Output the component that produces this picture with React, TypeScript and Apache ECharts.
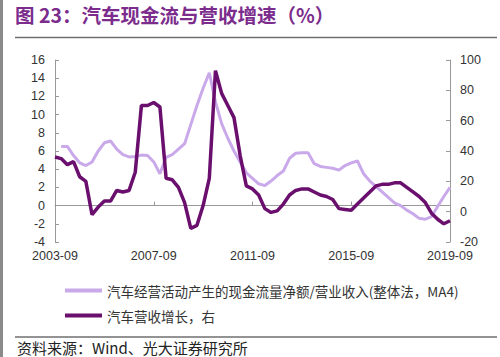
import React, { useEffect, useRef } from "react";
import * as echarts from "echarts";

// Quarterly categories 2003-09 .. 2019-09
const startYear = 2003;
const endYear = 2019;
const quarterMonths = ["03", "06", "09", "12"];
const categories: string[] = [];
for (let y = startYear; y <= endYear; y++) {
  for (const m of quarterMonths) {
    const label = `${y}-${m}`;
    if (label >= "2003-09" && label <= "2019-09") categories.push(label);
  }
}

// 汽车经营活动产生的现金流量净额/营业收入(整体法，MA4) — left axis (%)
const cashFlowRatio: (number | null)[] = [
  null, 6.5, 6.5, 5.5, 4.7, 4.4, 4.8, 6.0, 6.9, 7.1,
  6.2, 5.6, 5.35, 5.4, 5.55, 5.5, 4.8, 3.5, 5.3, 5.6,
  6.2, 6.8, 8.9, 11.0, 12.9, 14.6, 11.4, 9.0, 7.4, 6.0,
  4.8, 3.6, 3.0, 2.4, 2.2, 2.7, 3.3, 3.8, 5.2, 5.75,
  5.8, 5.8, 4.6, 4.3, 4.2, 4.1, 3.9, 4.4, 4.7, 4.9,
  3.5, 2.7, 2.1, 1.5, 0.9, 0.3, 0.0, -0.5, -0.9, -1.4,
  -1.5, -1.2, -0.1, 1.0, 2.0,
];

// 汽车营收增长，右 — right axis (%)
const revenueGrowth: number[] = [
  36, 35, 31, 33, 23, 20, -2, 3, 7, 7,
  14, 13, 14, 26, 70, 70, 72, 69, 22, 21,
  16, 6, -11, -9, 4, 22, 93, 78, 70, 62,
  37, 17, 15, 11, 2, -0.5, 0.5, 5, 11, 14,
  15, 15, 13, 11, 10, 8, 2, 1.5, 1, 5,
  9, 13, 17, 18, 18, 19, 19, 16, 13, 10,
  6, -1, -5, -8, -6,
];

const leftTicks = { min: -4, max: 16, interval: 2 };
const rightTicks = { min: -20, max: 100, interval: 20 };

const seriesNames = [
  "汽车经营活动产生的现金流量净额/营业收入(整体法，MA4)",
  "汽车营收增长，右",
];

const titleText = "图 23：汽车现金流与营收增速（%）";
const sourceText = "资料来源：Wind、光大证券研究所";

const LIGHT = "#C9A9EA";
const DARK = "#6A0F6E";
const LATIN = "'Liberation Sans', Arial, 'Noto Sans CJK SC', sans-serif";
const CJK = "'Noto Sans CJK SC', 'Liberation Sans', sans-serif";

export default function App() {
  const ref = useRef<HTMLDivElement>(null);
  useEffect(() => {
    if (!ref.current) return;
    const chart = echarts.init(ref.current, undefined, { renderer: "svg" });
    chart.setOption({
      animation: false,
      backgroundColor: "#ffffff",
      grid: { left: 55, right: 50, top: 60, bottom: 115, containLabel: false },
      legend: {
        orient: "vertical",
        left: 65,
        top: 283,
        padding: 0,
        itemWidth: 37,
        itemHeight: 4,
        itemGap: 10,
        icon: "rect",
        textStyle: { fontSize: 13.5, color: "#333", fontFamily: CJK, lineHeight: 15 },
        data: seriesNames,
      },
      xAxis: [
        {
          type: "category",
          data: categories,
          boundaryGap: false,
          position: "bottom",
          axisLine: { show: false, onZero: false },
          axisTick: { show: false },
          axisLabel: {
            interval: 15,
            fontSize: 12.5,
            color: "#333",
            fontFamily: LATIN,
            margin: 8,
          },
        },
        {
          type: "category",
          data: categories,
          boundaryGap: false,
          position: "bottom",
          axisLine: { show: true, onZero: true, onZeroAxisIndex: 0, lineStyle: { color: "#999", width: 1 } },
          axisTick: { show: true, inside: true, interval: 15, length: 4, lineStyle: { color: "#999" } },
          axisLabel: { show: false },
        },
      ],
      yAxis: [
        {
          type: "value",
          position: "left",
          min: leftTicks.min,
          max: leftTicks.max,
          interval: leftTicks.interval,
          splitLine: { show: false },
          axisLine: { show: true, lineStyle: { color: "#999" } },
          axisTick: { show: true, inside: true, length: 4, lineStyle: { color: "#999" } },
          axisLabel: { fontSize: 12.5, color: "#333", fontFamily: LATIN, margin: 10 },
        },
        {
          type: "value",
          position: "right",
          min: rightTicks.min,
          max: rightTicks.max,
          interval: rightTicks.interval,
          splitLine: { show: false },
          axisLine: { show: true, lineStyle: { color: "#999" } },
          axisTick: { show: true, inside: true, length: 4, lineStyle: { color: "#999" } },
          axisLabel: { fontSize: 12.5, color: "#333", fontFamily: LATIN, margin: 10 },
        },
      ],
      series: [
        {
          name: seriesNames[0],
          type: "line",
          xAxisIndex: 0,
          yAxisIndex: 0,
          data: cashFlowRatio,
          showSymbol: false,
          symbol: "none",
          lineStyle: { color: LIGHT, width: 3 },
          itemStyle: { color: LIGHT },
          z: 2,
        },
        {
          name: seriesNames[1],
          type: "line",
          xAxisIndex: 0,
          yAxisIndex: 1,
          data: revenueGrowth,
          showSymbol: false,
          symbol: "none",
          lineStyle: { color: DARK, width: 3.5 },
          itemStyle: { color: DARK },
          z: 3,
        },
      ],
      graphic: [
        { type: "rect", left: 0, top: 0, shape: { x: 0, y: 0, width: 3, height: 357 }, style: { fill: "#8a8a8a" } },
        {
          type: "text",
          left: 15,
          top: 5,
          style: { text: titleText, fontSize: 19.5, fontWeight: "bold", fill: "#7B2C8C", fontFamily: CJK },
        },
        { type: "line", shape: { x1: 15, y1: 37.5, x2: 497, y2: 37.5 }, style: { stroke: "#6f6f6f", lineWidth: 1.5 } },
        { type: "line", shape: { x1: 15, y1: 337, x2: 497, y2: 337 }, style: { stroke: "#6f6f6f", lineWidth: 1.5 } },
        {
          type: "text",
          x: 17,
          y: 347,
          style: {
            text: sourceText,
            fontSize: 15,
            lineHeight: 15,
            fill: "#222",
            fontFamily: CJK,
            verticalAlign: "middle",
            align: "left",
          },
        },
      ],
    });
    return () => chart.dispose();
  }, []);
  return (
    <div
      ref={ref}
      style={{ position: "fixed", left: 0, top: 0, width: 500, height: 357 }}
    />
  );
}
